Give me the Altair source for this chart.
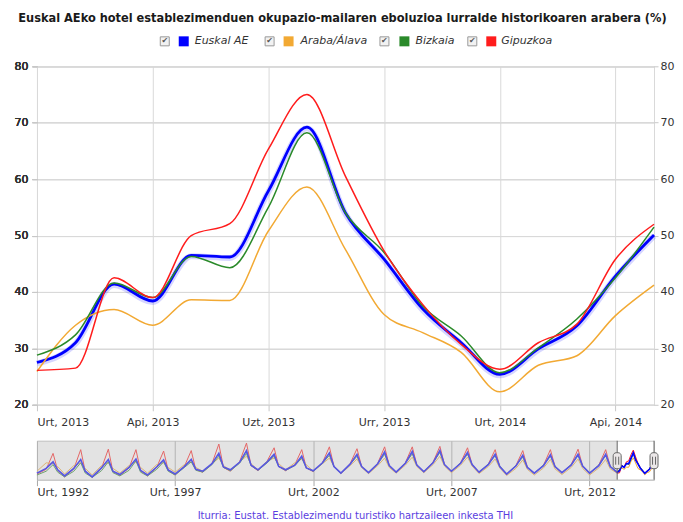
import altair as alt
import pandas as pd

title_text = "Euskal AEko hotel establezimenduen okupazio-mailaren eboluzioa lurralde historikoaren arabera (%)"
source_text = "Iturria: Eustat. Establezimendu turistiko hartzaileen inkesta THI"
series_names = ["Euskal AE", "Araba/Álava", "Bizkaia", "Gipuzkoa"]
series_colors = ["#0000ff", "#f2a933", "#2a8a2a", "#ff1c1c"]
month_abbr = ["Urt", "Ots", "Mar", "Api", "Mai", "Eka", "Uzt", "Abu", "Ira", "Urr", "Aza", "Abe"]
first_year = 1992

# Detail view: monthly, Jan 2013 .. May 2014
main_first_year = 2013
euskal_ae = [27.5, 31.0, 41.4, 38.4, 46.5, 46.2, 57.9, 69.2, 54.0, 45.8, 37.0, 31.0, 25.4, 29.9, 34.0, 42.8, 50.1]
araba = [25.9, 34.1, 36.9, 34.1, 38.6, 38.5, 50.8, 58.6, 47.5, 36.0, 32.8, 29.3, 22.3, 27.0, 28.7, 35.8, 41.2]
bizkaia = [28.8, 32.4, 41.6, 39.0, 46.3, 44.3, 55.0, 68.2, 54.0, 47.0, 37.5, 32.2, 25.7, 30.1, 35.2, 42.5, 51.5]
gipuzkoa = [26.1, 26.5, 42.5, 39.0, 50.0, 52.1, 65.3, 75.0, 60.5, 47.3, 37.8, 30.7, 26.3, 31.0, 34.3, 45.8, 52.0]

# Navigator overview 1992-2012: values read at Jan, May, Aug, Oct of each year
nav_years = list(range(1992, 2013))
nav_months = [1, 5, 8, 10]
nav_euskal_ae = [
    26, 36, 50, 33,  20, 36, 55, 30,  18, 37, 55, 30,  23, 38, 56, 32,  22, 39, 54, 33,
    24, 40, 55, 34,  30, 46, 68, 39,  33, 49, 74, 43,  33, 50, 66, 40,  33, 43, 62, 37,
    31, 48, 69, 40,  26, 45, 66, 40,  27, 46, 71, 42,  28, 47, 72, 43,  29, 48, 74, 44,
    30, 47, 70, 44,  28, 44, 66, 40,  24, 41, 64, 38,  26, 42, 65, 40,  27, 43, 66, 41,
    26, 42, 66, 40]
nav_araba = [
    30, 48, 46, 40,  24, 42, 48, 36,  22, 42, 48, 36,  26, 42, 50, 38,  26, 44, 48, 38,
    28, 44, 50, 38,  30, 46, 58, 42,  32, 50, 62, 46,  33, 52, 58, 46,  33, 48, 56, 44,
    30, 46, 58, 40,  25, 42, 56, 38,  25, 42, 58, 38,  26, 43, 60, 40,  27, 44, 62, 41,
    27, 43, 60, 41,  25, 40, 56, 37,  21, 36, 54, 34,  22, 37, 55, 35,  23, 38, 56, 36,
    22, 37, 55, 35]
nav_bizkaia = [
    22, 30, 44, 28,  18, 30, 48, 26,  17, 31, 50, 27,  20, 32, 52, 28,  20, 34, 50, 30,
    22, 38, 50, 32,  28, 44, 62, 38,  31, 47, 68, 42,  32, 48, 62, 40,  32, 42, 58, 37,
    30, 47, 64, 40,  26, 45, 62, 40,  27, 46, 66, 42,  28, 47, 67, 43,  29, 48, 70, 44,
    30, 48, 66, 44,  28, 45, 63, 41,  24, 42, 60, 38,  26, 43, 62, 40,  27, 44, 63, 41,
    26, 43, 63, 40]
nav_gipuzkoa = [
    24, 34, 68, 32,  18, 35, 76, 29,  17, 36, 77, 29,  21, 37, 76, 31,  20, 38, 73, 32,
    22, 40, 74, 33,  28, 46, 88, 38,  30, 50, 90, 42,  31, 52, 80, 40,  31, 44, 76, 37,
    29, 48, 82, 40,  25, 46, 78, 40,  26, 47, 82, 42,  27, 48, 82, 43,  28, 49, 83, 44,
    29, 48, 80, 44,  27, 45, 76, 40,  23, 42, 74, 38,  25, 43, 76, 40,  26, 44, 77, 41,
    25, 43, 76, 40]

main_ticks = [252, 255, 258, 261, 264, 267]
nav_ticks = [0, 60, 120, 180, 240]
y_ticks = [20, 30, 40, 50, 60, 70, 80]

# ---- build tables ----
main_vals = [euskal_ae, araba, bizkaia, gipuzkoa]
nav_vals = [nav_euskal_ae, nav_araba, nav_bizkaia, nav_gipuzkoa]
off0 = (main_first_year - first_year) * 12
rows = []
for name, vals in zip(series_names, main_vals):
    for i, v in enumerate(vals):
        rows.append({"idx": off0 + i, "series": name, "value": v})
df_main = pd.DataFrame(rows)

nrows = []
for name, vals in zip(series_names, nav_vals):
    k = 0
    for yr in nav_years:
        for m in nav_months:
            nrows.append({"idx": (yr - first_year) * 12 + (m - 1), "series": name, "value": vals[k]})
            k += 1
df_nav = pd.concat([pd.DataFrame(nrows), df_main], ignore_index=True)

sel_start = off0
sel_end = off0 + len(euskal_ae) - 1
main_domain = [sel_start, sel_end]

month_js = "[" + ",".join("'%s'" % m for m in month_abbr) + "]"
main_label_expr = month_js + "[datum.value % 12] + ', ' + (" + str(first_year) + " + floor(datum.value / 12))"
nav_label_expr = "'" + month_abbr[0] + ", ' + (" + str(first_year) + " + floor(datum.value / 12))"

FONT = "DejaVu Sans"
MAIN_W, MAIN_H = 618, 339
NAV_H = 39
color_scale = alt.Scale(domain=series_names, range=series_colors)

x_main = alt.X("idx:Q", scale=alt.Scale(domain=main_domain, nice=False, zero=False),
               axis=alt.Axis(values=main_ticks, labelExpr=main_label_expr, title=None, grid=True,
                             gridColor="#d9d9d9", tickColor="#c8c8c8", tickSize=6, domain=False,
                             labelFontSize=11, labelColor="#333333", labelPadding=6, labelFont=FONT))
y_left = alt.Y("value:Q", scale=alt.Scale(domain=[20, 80], nice=False, zero=False),
               axis=alt.Axis(values=y_ticks, orient="left", title=None, grid=True, gridColor="#d9d9d9",
                             tickColor="#c8c8c8", tickSize=5, domain=False, labelFontSize=11,
                             labelColor="#333333", labelPadding=4, minExtent=26, labelFont=FONT))
y_right = alt.Y("value:Q", scale=alt.Scale(domain=[20, 80], nice=False, zero=False),
                axis=alt.Axis(values=y_ticks, orient="right", title=None, grid=False,
                              tickColor="#c8c8c8", tickSize=4, domain=False, labelFontSize=11,
                              labelColor="#333333", labelPadding=2, labelFont=FONT))

base = alt.Chart(df_main)
glow = base.transform_filter(alt.datum.series == series_names[0]).mark_line(
    interpolate="monotone", strokeWidth=6, opacity=0.16, yOffset=1, color=series_colors[0]
).encode(x=x_main, y=y_left, detail="series:N")

line_layers = []
for name in series_names:
    w = 2.8 if name == series_names[0] else 1.5
    line_layers.append(
        base.transform_filter(alt.datum.series == name).mark_line(interpolate="monotone", strokeWidth=w)
        .encode(x=x_main, y=y_left, color=alt.Color("series:N", scale=color_scale, legend=None))
    )
right_axis_layer = base.transform_filter(alt.datum.series == series_names[0]).mark_line(opacity=0).encode(
    x=x_main, y=y_right)

# custom legend (checkbox, colour square, italic label) above the plot
legend_df = pd.DataFrame({
    "series": series_names,
    "cb_x": [128, 233, 348, 436],
    "sq_x": [147, 252, 368, 455],
    "lb_x": [158, 264, 379, 465],
})
LEG_Y = -25
leg = alt.Chart(legend_df)
leg_box = leg.mark_square(size=81, fill="#f2f2f2", stroke="#9a9a9a", strokeWidth=1, opacity=1).encode(
    x=alt.X("cb_x:Q", scale=None, axis=None), y=alt.value(LEG_Y))
leg_check = leg.mark_text(text="✔", fontSize=8, color="#555555", baseline="middle", align="center").encode(
    x=alt.X("cb_x:Q", scale=None, axis=None), y=alt.value(LEG_Y))
leg_sq = leg.mark_square(size=100, opacity=1).encode(
    x=alt.X("sq_x:Q", scale=None, axis=None), y=alt.value(LEG_Y),
    color=alt.Color("series:N", scale=color_scale, legend=None))
leg_txt = leg.mark_text(align="left", baseline="middle", fontSize=11, fontStyle="italic",
                        color="#333333", font=FONT).encode(
    x=alt.X("lb_x:Q", scale=None, axis=None), y=alt.value(LEG_Y), text="series:N")

main = alt.layer(glow, *line_layers, right_axis_layer, leg_box, leg_check, leg_sq, leg_txt).resolve_axis(
    y="independent").properties(width=MAIN_W, height=MAIN_H, view=alt.ViewBackground(stroke="#d9d9d9"))

# ---- navigator ----
x_nav = alt.X("idx:Q", scale=alt.Scale(domain=[0, sel_end], nice=False, zero=False),
              axis=alt.Axis(values=nav_ticks, labelExpr=nav_label_expr, title=None, grid=True,
                            gridColor="#a8a8a8", tickColor="#a8a8a8", tickSize=6, domain=True,
                            domainColor="#c0c0c0", labelFontSize=11, labelColor="#333333",
                            labelPadding=1, labelFont=FONT))
y_nav = alt.Y("value:Q", scale=alt.Scale(domain=[12, 95], nice=False, zero=False), axis=None)

nbase = alt.Chart(df_nav)
nav_lines = []
for name in [series_names[3], series_names[1], series_names[2], series_names[0]]:
    w = 1.6 if name == series_names[0] else 1
    nav_lines.append(
        nbase.transform_filter(alt.datum.series == name).mark_line(strokeWidth=w)
        .encode(x=x_nav, y=y_nav, color=alt.Color("series:N", scale=color_scale, legend=None))
    )
mask = alt.Chart(pd.DataFrame({"a": [0], "b": [sel_start]})).mark_rect(fill="#c0c0c0", opacity=0.45).encode(
    x="a:Q", x2="b:Q", y=alt.value(0), y2=alt.value(NAV_H))
handles_df = pd.DataFrame({"pos": [sel_start, sel_end]})
sel_rules = alt.Chart(handles_df).mark_rule(color="#666666", strokeWidth=1).encode(
    x="pos:Q", y=alt.value(0), y2=alt.value(NAV_H))
handles = alt.Chart(handles_df).mark_rect(cornerRadius=3, fill="#ebe7e8", stroke="#666666", strokeWidth=1,
                                          xOffset=-4, x2Offset=4).encode(
    x="pos:Q", x2="pos:Q", y=alt.value(12), y2=alt.value(28))
grip1 = alt.Chart(handles_df).mark_rule(color="#666666", strokeWidth=1, xOffset=-1.5).encode(
    x="pos:Q", y=alt.value(16), y2=alt.value(24))
grip2 = alt.Chart(handles_df).mark_rule(color="#666666", strokeWidth=1, xOffset=1.5).encode(
    x="pos:Q", y=alt.value(16), y2=alt.value(24))

nav = alt.layer(*nav_lines, mask, sel_rules, handles, grip1, grip2).properties(
    width=MAIN_W, height=NAV_H, view=alt.ViewBackground(stroke="#c8c8c8"),
    title=alt.TitleParams(text=source_text, orient="bottom", fontSize=10, color="#5a3ee0",
                          fontWeight="normal", anchor="middle", offset=13, font=FONT, dx=10))

chart = alt.vconcat(main, nav, spacing=11).properties(
    title=alt.TitleParams(text=title_text, fontSize=11.4, fontWeight="bold", color="#1a1a1a",
                          anchor="middle", offset=10, font=FONT),
    padding={"left": 2, "top": 4, "right": 0, "bottom": 0},
).configure(font=FONT)

chart.save("out.html", embed_options={"renderer": "svg", "actions": False})
